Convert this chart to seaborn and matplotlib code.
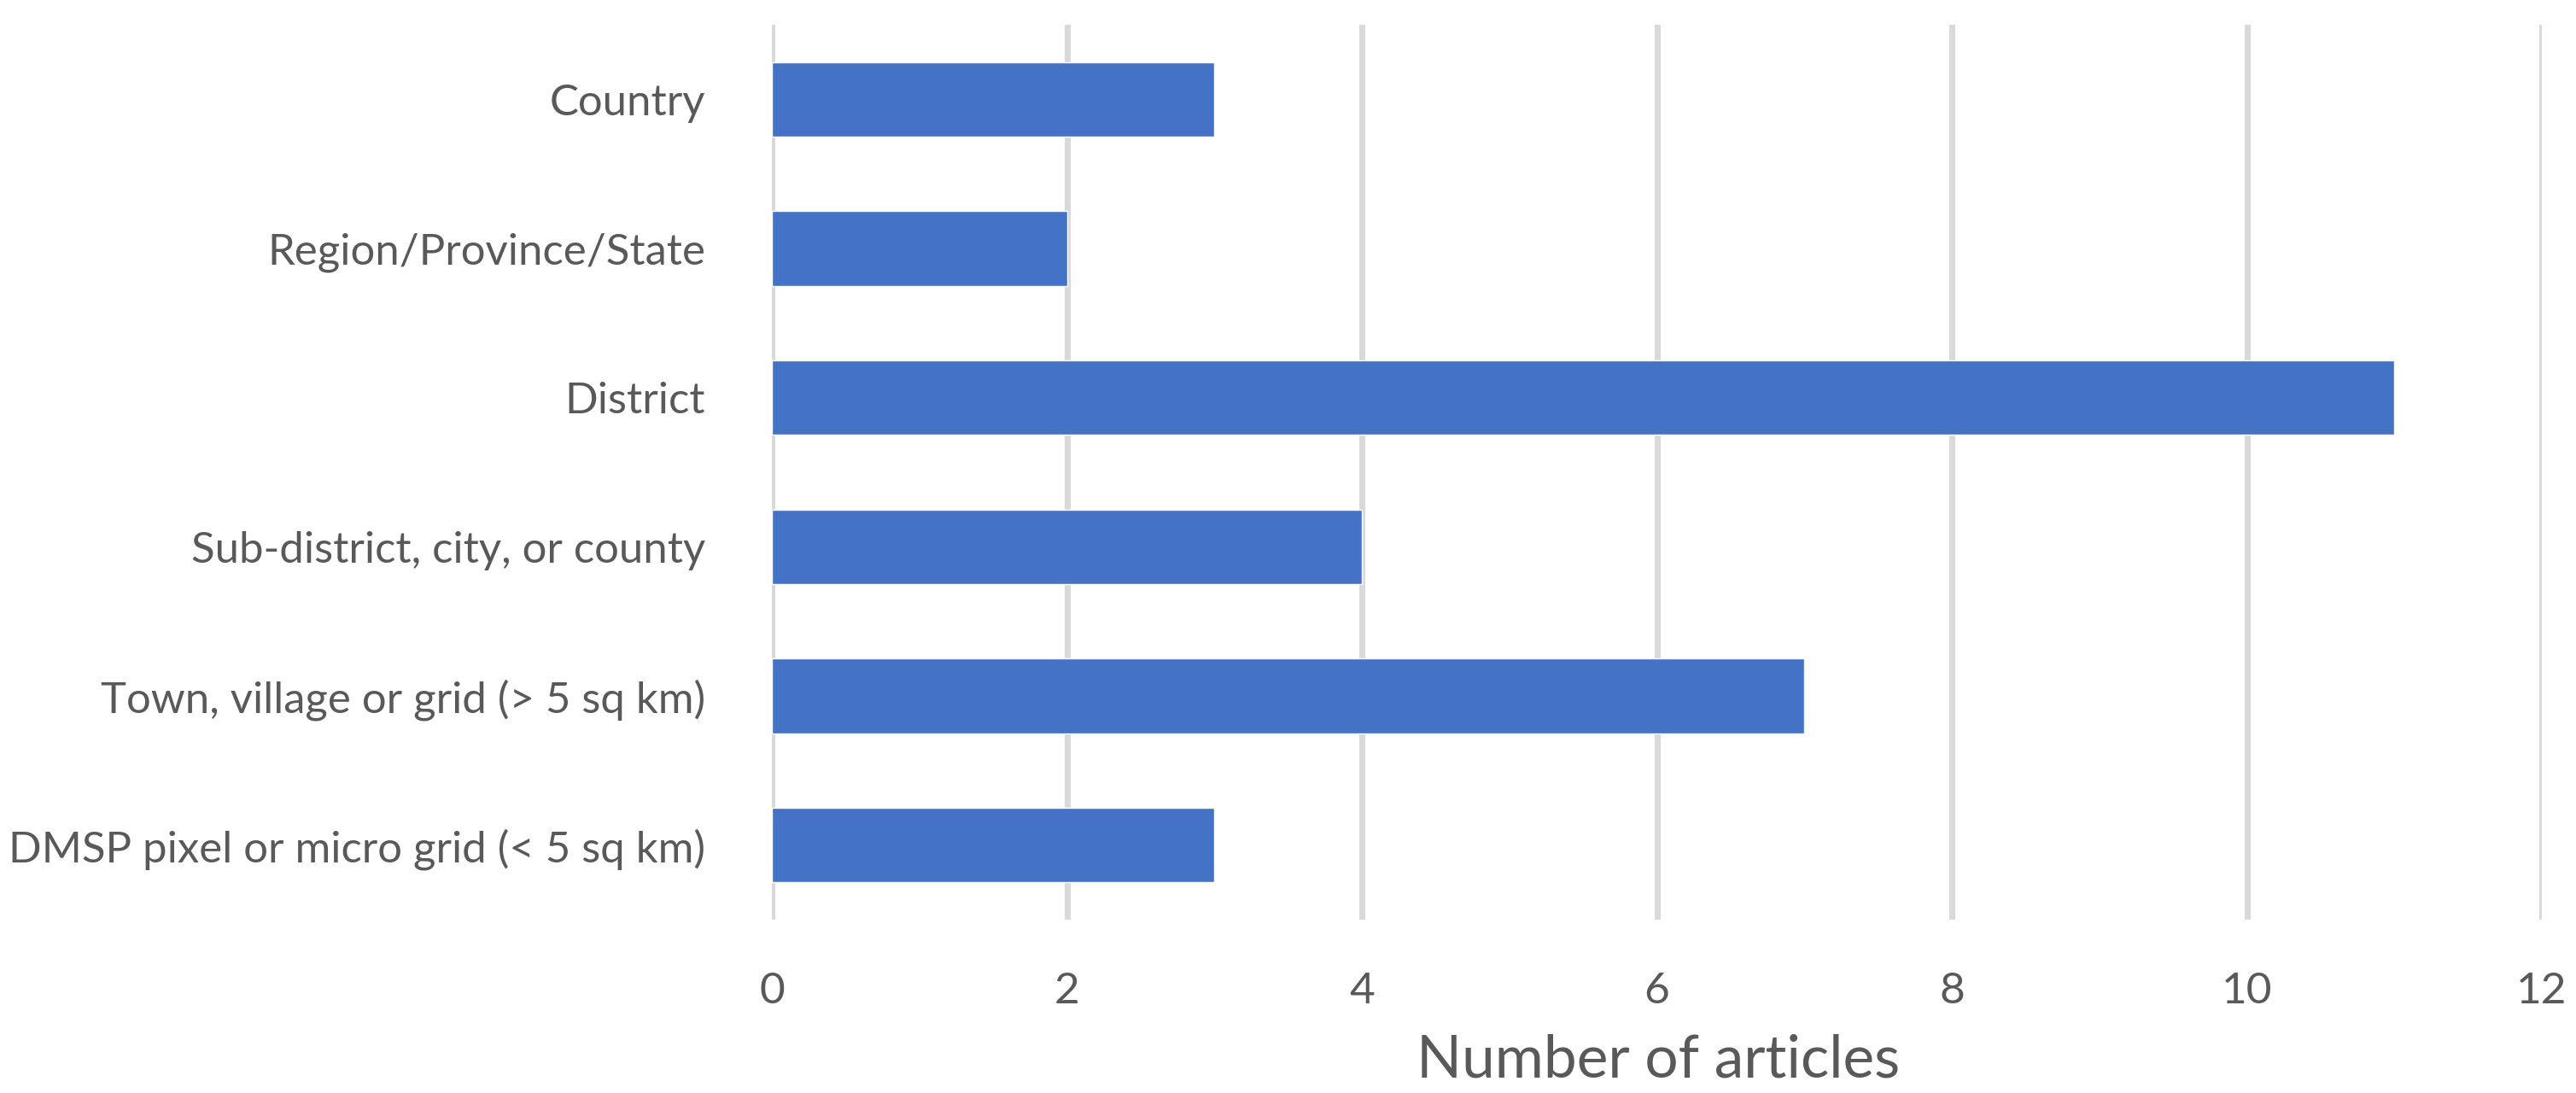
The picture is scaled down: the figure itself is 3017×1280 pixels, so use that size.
import seaborn as sns
import matplotlib.pyplot as plt
import pandas as pd

categories = ["Country", "Region/Province/State", "District",
              "Sub-district, city, or county", "Town, village or grid (> 5 sq km)",
              "DMSP pixel or micro grid (< 5 sq km)"]
articles = [3, 2, 11, 4, 7, 3]
xticks = [0, 2, 4, 6, 8, 10, 12]

text_col = "#595959"
bar_col = "#4472C4"
grid_col = "#D9D9D9"

data = pd.DataFrame({"level": categories, "articles": articles})

sns.set_theme(style="white")
plt.rcParams['font.family'] = ['Lato', 'DejaVu Sans']

fig = plt.figure(figsize=(30.17, 12.8), dpi=100)
ax = fig.add_axes([904/3017, 1 - 1077/1280, (2977-904)/3017, (1077-29)/1280])

sns.barplot(data=data, x="articles", y="level", orient="h", color=bar_col,
            width=0.5, saturation=1, ax=ax, zorder=3)

ax.set_xlim(0, 12)
ax.set_ylim(5.5, -0.5)
ax.set_xticks(xticks)
ax.set_xticklabels([str(t) for t in xticks])
ax.grid(axis="x", color=grid_col, linewidth=5, zorder=0)
ax.grid(axis="y", visible=False)
ax.set_axisbelow(True)
for s in ax.spines.values():
    s.set_visible(False)

ax.tick_params(axis="y", length=0, pad=56, labelsize=36.6, labelcolor=text_col)
ax.tick_params(axis="x", length=0, pad=44, labelsize=37, labelcolor=text_col)
ax.set_ylabel("")
ax.set_xlabel("")

# axis title sits centred under the plot area
fig.text(1942/3017, 1 - 1262/1280, "Number of articles", ha="center", va="baseline",
         fontsize=50, color=text_col)

plt.savefig("out.png", dpi=100, facecolor="white")
